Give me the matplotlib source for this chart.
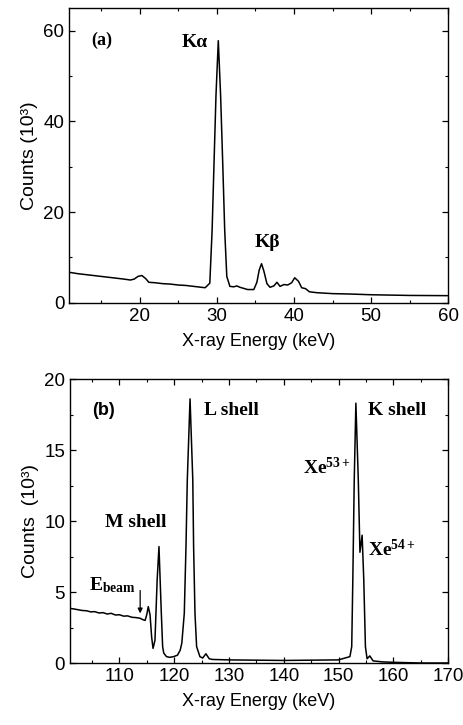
import matplotlib
matplotlib.use("Agg")
import matplotlib.pyplot as plt
from matplotlib.ticker import MultipleLocator

# panel (a): spectrum
energy_a = [10.9, 12.0, 13.0, 14.0, 15.0, 16.0, 17.0, 18.0, 18.8, 19.3, 19.8,
            20.3, 20.8, 21.2, 22.0, 23.0, 24.0, 25.0, 26.0, 27.0, 28.0, 28.5,
            29.1, 29.4, 29.65, 29.9, 30.2, 30.5, 30.77, 31.03, 31.3, 31.7, 32.2,
            32.6, 33.0, 34.0, 34.8, 35.2, 35.5, 35.8, 36.1, 36.5, 36.9, 37.4,
            37.8, 38.2, 38.7, 39.2, 39.7, 40.1, 40.6, 41.0, 41.5, 42.0, 43.0,
            45.0, 47.5, 50.0, 55.0, 60.0]
counts_a = [6.7, 6.4, 6.2, 6.0, 5.8, 5.6, 5.4, 5.2, 5.0, 5.2, 5.8,
            6.0, 5.3, 4.5, 4.4, 4.2, 4.1, 3.9, 3.8, 3.6, 3.4, 3.3,
            4.3, 16.0, 31.0, 45.7, 57.8, 45.7, 31.0, 16.0, 5.8, 3.6, 3.5,
            3.7, 3.4, 2.9, 2.9, 4.5, 7.2, 8.6, 7.0, 4.2, 3.4, 3.7,
            4.5, 3.6, 4.0, 3.9, 4.4, 5.5, 4.7, 3.3, 3.1, 2.4, 2.2,
            2.0, 1.9, 1.75, 1.6, 1.55]

# panel (b)
energy_b = [101.0, 101.8, 102.5, 103.2, 104.0, 104.8, 105.5, 106.3, 107.0, 107.8,
            108.5, 109.3, 110.0, 110.8, 111.5, 112.3, 113.0, 113.8, 114.3, 114.7,
            115.0, 115.28, 115.6, 115.9, 116.15, 116.5, 116.9, 117.23, 117.66, 117.9,
            118.1, 118.6, 119.2, 119.9, 120.6, 121.1, 121.4, 121.85, 122.16, 122.4,
            122.9, 123.4, 123.55, 123.8, 124.1, 124.7, 125.2, 125.8, 126.4, 127.0,
            130.0, 135.0, 140.0, 145.0, 150.0, 152.07, 152.4, 152.6, 152.86, 153.16,
            153.6, 153.9, 154.3, 154.6, 154.9, 155.2, 155.7, 156.3, 158.0, 160.0,
            165.0, 170.0]
counts_b = [3.85, 3.8, 3.75, 3.7, 3.68, 3.6, 3.62, 3.52, 3.55, 3.45,
            3.5, 3.38, 3.4, 3.3, 3.32, 3.22, 3.2, 3.15, 3.05, 3.0,
            3.4, 3.97, 3.4, 1.8, 1.03, 1.6, 5.85, 8.2, 3.5, 1.15,
            0.7, 0.45, 0.4, 0.45, 0.55, 0.9, 1.4, 3.5, 8.2, 12.9,
            18.6, 12.9, 8.2, 3.5, 1.15, 0.45, 0.35, 0.65, 0.3, 0.25,
            0.22, 0.2, 0.18, 0.2, 0.22, 0.45, 1.15, 5.85, 12.9, 18.3,
            12.9, 7.8, 9.0, 5.85, 1.15, 0.3, 0.5, 0.15, 0.08, 0.05,
            0.0, 0.0]

plt.rcParams['font.family'] = ['Liberation Sans', 'DejaVu Sans']
plt.rcParams['mathtext.fontset'] = 'custom'
plt.rcParams['mathtext.rm'] = 'Liberation Serif:bold'
plt.rcParams['mathtext.bf'] = 'Liberation Serif:bold'
plt.rcParams['mathtext.it'] = 'Liberation Serif:bold'
plt.rcParams['xtick.direction'] = 'in'
plt.rcParams['ytick.direction'] = 'in'
plt.rcParams['xtick.top'] = True
plt.rcParams['ytick.right'] = True

serif = ['Liberation Serif', 'DejaVu Serif']

fig = plt.figure(figsize=(4.64, 7.25), dpi=100)
ax1 = fig.add_axes([0.1494, 0.5825, 0.8168, 0.4064])
ax2 = fig.add_axes([0.1509, 0.0855, 0.815, 0.3917])

for ax in (ax1, ax2):
    ax.tick_params(which='major', length=4, width=0.9, labelsize=13.5)
    ax.tick_params(which='minor', length=2.5, width=0.8)
    for s in ax.spines.values():
        s.set_linewidth(1.0)

ax1.plot(energy_a, counts_a, color='black', lw=1.1)
ax1.set_xlim(10.9, 60)
ax1.set_ylim(0, 65)
ax1.set_xticks([20, 30, 40, 50, 60])
ax1.xaxis.set_minor_locator(MultipleLocator(5))
ax1.set_yticks([0, 20, 40, 60])
ax1.yaxis.set_minor_locator(MultipleLocator(10))
ax1.set_xlabel('X-ray Energy (keV)', fontsize=13, labelpad=6)
ax1.set_ylabel('Counts (10³)', fontsize=14, labelpad=4)
ax1.text(15.1, 57.8, '(a)', family=serif, weight='bold', fontsize=13, ha='center', va='center')
ax1.text(27.2, 57.5, 'Kα', family=serif, weight='bold', fontsize=14, ha='center', va='center')
ax1.text(36.5, 13.3, 'Kβ', family=serif, weight='bold', fontsize=14, ha='center', va='center')

ax2.plot(energy_b, counts_b, color='black', lw=1.1)
ax2.set_xlim(101.0, 170)
ax2.set_ylim(0, 20)
ax2.set_xticks([110, 120, 130, 140, 150, 160, 170])
ax2.xaxis.set_minor_locator(MultipleLocator(5))
ax2.set_yticks([0, 5, 10, 15, 20])
ax2.yaxis.set_minor_locator(MultipleLocator(2.5))
ax2.set_xlabel('X-ray Energy (keV)', fontsize=13, labelpad=6)
ax2.set_ylabel('Counts  (10³)', fontsize=14, labelpad=4)
ax2.text(107.2, 17.8, '(b)', weight='bold', fontsize=13, ha='center', va='center')
ax2.text(130.4, 17.8, 'L shell', family=serif, weight='bold', fontsize=14, ha='center', va='center')
ax2.text(160.6, 17.8, 'K shell', family=serif, weight='bold', fontsize=14, ha='center', va='center')
ax2.text(113.0, 9.9, 'M shell', family=serif, weight='bold', fontsize=14, ha='center', va='center')
ax2.text(147.9, 13.8, 'Xe$^{53+}$', family=serif, weight='bold', fontsize=14, ha='center', va='center')
ax2.text(159.7, 8.0, 'Xe$^{54+}$', family=serif, weight='bold', fontsize=14, ha='center', va='center')
ax2.text(108.8, 5.5, 'E$_{beam}$', family=serif, weight='bold', fontsize=14, ha='center', va='center')
ax2.annotate('', xy=(113.8, 3.3), xytext=(113.8, 5.3),
             arrowprops=dict(arrowstyle='-|>', color='black', lw=0.9, mutation_scale=7))

fig.savefig('out.png', dpi=100)
